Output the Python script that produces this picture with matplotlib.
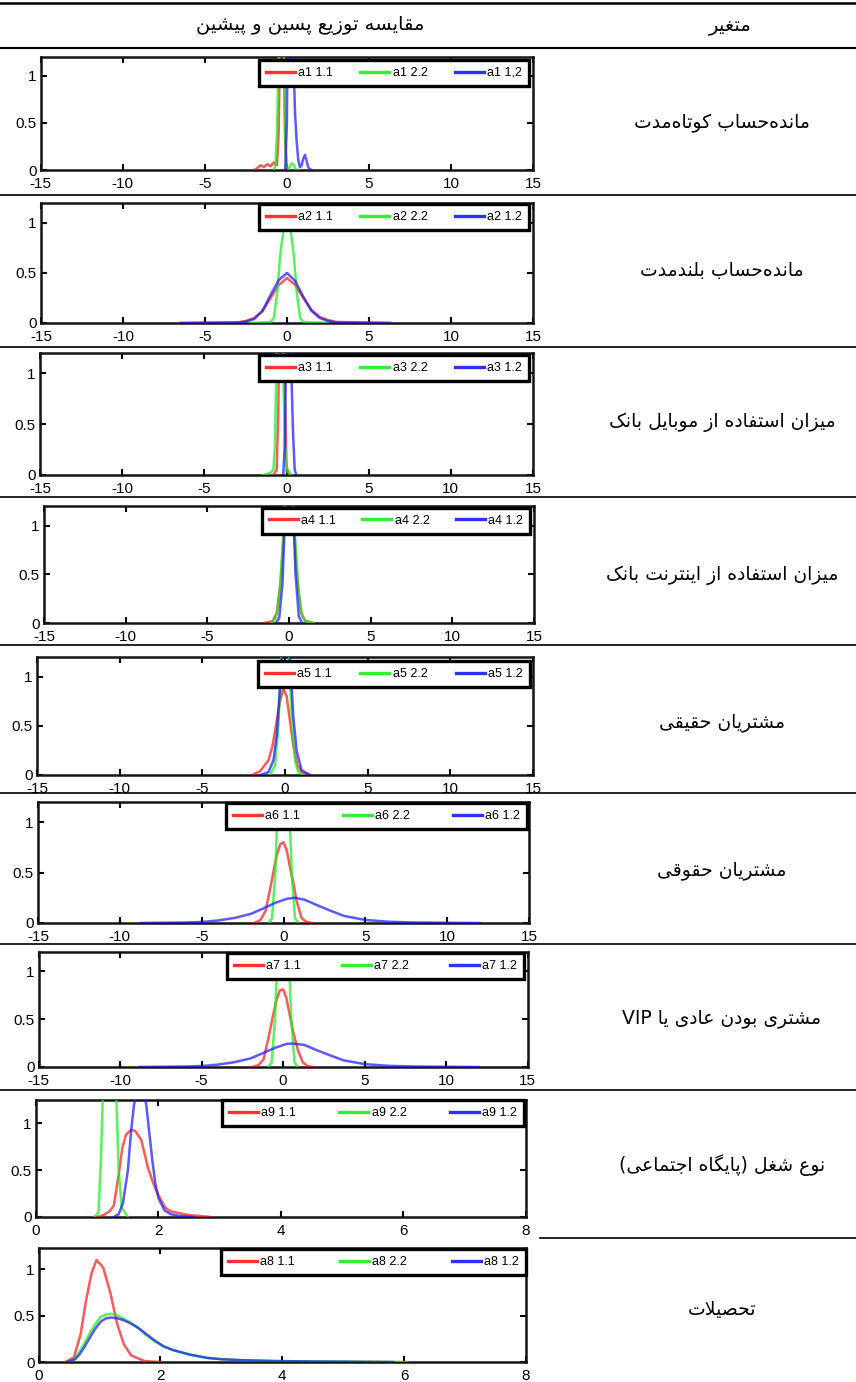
import re
import matplotlib
matplotlib.use("Agg")
import matplotlib.pyplot as plt
from matplotlib.lines import Line2D

W, H = 856, 1382

# ---------------- text ----------------
HEADER_PLOT = "مقایسه توزیع پسین و پیشین"
HEADER_VAR = "متغیر"
VARIABLES = [
    "مانده\u200cحساب کوتاه\u200cمدت",
    "مانده\u200cحساب بلندمدت",
    "میزان استفاده از موبایل بانک",
    "میزان استفاده از اینترنت بانک",
    "مشتریان حقیقی",
    "مشتریان حقوقی",
    "مشتری بودن عادی یا VIP",
    "نوع شغل (پایگاه اجتماعی)",
    "تحصیلات",
]
PARAM_NAMES = ["a1", "a2", "a3", "a4", "a5", "a6", "a7", "a9", "a8"]
SERIES_TAGS = ["1.1", "2.2", "1.2"]
FIRST_ROW_TAGS = ["1.1", "2.2", "1,2"]

WIDE_TICKS = [-15, -10, -5, 0, 5, 10, 15]
NARROW_TICKS = [0, 2, 4, 6, 8]
Y_TICKS = [0, 0.5, 1]

# ---------------- densities ----------------
# a1
A1_11_X = [-2.0, -1.8, -1.6, -1.4, -1.2, -1.0, -0.8, -0.6, -0.5, -0.4, -0.3, -0.2, -0.1, 0.0, 0.1]
A1_11_Y = [0, 0.02, 0.05, 0.03, 0.06, 0.04, 0.08, 0.05, 0.4, 1.5, 3.0, 1.5, 0.3, 0.02, 0]
A1_22_X = [-0.8, -0.7, -0.6, -0.5, -0.4, -0.3, -0.2, -0.1, 0.0, 0.1, 0.2, 0.3, 0.4, 0.5, 0.6, 0.7]
A1_22_Y = [0, 0.05, 0.4, 1.2, 3.0, 3.2, 1.5, 0.3, 0.03, 0.01, 0.04, 0.07, 0.06, 0.02, 0.0, 0]
A1_12_X = [-0.1, 0.0, 0.1, 0.2, 0.3, 0.4, 0.5, 0.6, 0.7, 0.8, 0.9, 1.0, 1.1, 1.2, 1.3, 1.4, 1.5]
A1_12_Y = [0, 0.5, 2.5, 3.0, 2.0, 1.2, 0.6, 0.3, 0.1, 0.03, 0.05, 0.12, 0.16, 0.1, 0.03, 0.01, 0]

# a2
A2_11_X = [-6.5, -3, -2.5, -2, -1.5, -1, -0.5, 0, 0.5, 1, 1.5, 2, 2.5, 3, 6.3]
A2_11_Y = [0, 0.005, 0.02, 0.05, 0.12, 0.25, 0.38, 0.45, 0.38, 0.25, 0.13, 0.06, 0.03, 0.01, 0]
A2_22_X = [-2.3, -1.0, -0.8, -0.6, -0.4, -0.2, 0, 0.2, 0.4, 0.6, 0.8, 1.0, 2.5]
A2_22_Y = [0, 0.01, 0.05, 0.3, 0.7, 0.95, 1.0, 0.95, 0.7, 0.3, 0.05, 0.01, 0]
A2_12_X = [-6.5, -3, -2.5, -2, -1.5, -1, -0.5, 0, 0.5, 1, 1.5, 2, 2.5, 3, 6.3]
A2_12_Y = [0, 0.005, 0.015, 0.04, 0.12, 0.28, 0.43, 0.5, 0.42, 0.26, 0.12, 0.05, 0.02, 0.005, 0]

# a3
A3_11_X = [-0.8, -0.6, -0.5, -0.4, -0.3, -0.2, -0.1, 0, 0.1]
A3_11_Y = [0, 0.05, 0.6, 2.0, 3.0, 2.0, 0.8, 0.1, 0]
A3_22_X = [-1.4, -1.0, -0.8, -0.7, -0.6, -0.5, -0.4, -0.3, -0.2, -0.1, 0, 0.1, 0.2, 0.3]
A3_22_Y = [0, 0.02, 0.05, 0.3, 1.2, 3.0, 3.0, 2.0, 1.0, 0.3, 0.03, 0.05, 0.02, 0]
A3_12_X = [-0.2, -0.1, 0, 0.1, 0.2, 0.3, 0.4, 0.5, 0.6]
A3_12_Y = [0, 0.3, 1.5, 3.0, 2.5, 1.0, 0.4, 0.05, 0]

# a4
A4_11_X = [-1.5, -1.0, -0.75, -0.5, -0.3, -0.15, 0, 0.15, 0.3, 0.5, 0.75, 1.0, 1.5]
A4_11_Y = [0, 0.02, 0.1, 0.45, 1.0, 1.45, 1.6, 1.45, 1.0, 0.45, 0.1, 0.02, 0]
A4_22_X = [-1.1, -0.8, -0.6, -0.4, -0.2, 0, 0.2, 0.4, 0.6, 0.8, 1.0, 1.5]
A4_22_Y = [0, 0.05, 0.25, 0.75, 1.35, 1.6, 1.4, 0.8, 0.3, 0.07, 0.02, 0]
A4_12_X = [-0.8, -0.6, -0.4, -0.2, 0, 0.2, 0.4, 0.6, 0.8]
A4_12_Y = [0, 0.05, 0.4, 1.3, 1.8, 1.4, 0.5, 0.07, 0]

# a5
A5_11_X = [-2.0, -1.5, -1.0, -0.75, -0.5, -0.3, -0.1, 0.1, 0.3, 0.5, 0.75, 1.0, 1.5]
A5_11_Y = [0, 0.04, 0.15, 0.3, 0.55, 0.75, 0.88, 0.8, 0.55, 0.3, 0.1, 0.03, 0]
A5_22_X = [-0.9, -0.6, -0.4, -0.2, 0, 0.2, 0.4, 0.6, 0.8, 1.1]
A5_22_Y = [0, 0.1, 0.5, 1.3, 1.8, 1.4, 0.6, 0.15, 0.03, 0]
A5_12_X = [-1.5, -1.0, -0.7, -0.5, -0.3, -0.1, 0.1, 0.3, 0.5, 0.7, 1.0, 1.5]
A5_12_Y = [0, 0.03, 0.15, 0.4, 0.9, 1.4, 1.5, 1.2, 0.6, 0.25, 0.05, 0]

# a6
A6_11_X = [-1.8, -1.4, -1.1, -0.8, -0.6, -0.4, -0.2, 0, 0.2, 0.4, 0.6, 0.8, 1.1, 1.4, 1.8]
A6_11_Y = [0, 0.03, 0.12, 0.35, 0.52, 0.68, 0.78, 0.8, 0.72, 0.55, 0.4, 0.22, 0.05, 0.01, 0]
A6_22_X = [-0.9, -0.7, -0.5, -0.3, -0.1, 0.1, 0.3, 0.5, 0.7, 0.9]
A6_22_Y = [0, 0.05, 0.5, 1.4, 2.0, 2.0, 1.4, 0.5, 0.05, 0]
A6_12_X = [-8.7, -6, -5, -4, -3, -2, -1.3, -0.5, 0.2, 0.7, 1.3, 2.0, 2.9, 3.7, 5.0, 6.5, 8, 10, 12]
A6_12_Y = [0, 0.005, 0.01, 0.025, 0.05, 0.09, 0.14, 0.2, 0.24, 0.25, 0.23, 0.18, 0.12, 0.07, 0.03, 0.012, 0.005, 0.002, 0]

# a7
A7_11_X = [-1.9, -1.5, -1.2, -0.9, -0.6, -0.4, -0.2, 0, 0.2, 0.4, 0.6, 0.9, 1.2, 1.5, 1.8]
A7_11_Y = [0, 0.02, 0.08, 0.3, 0.55, 0.7, 0.8, 0.81, 0.72, 0.55, 0.38, 0.18, 0.05, 0.01, 0]
A7_22_X = [-0.9, -0.7, -0.5, -0.3, -0.1, 0.1, 0.3, 0.5, 0.7, 0.9]
A7_22_Y = [0, 0.05, 0.5, 1.4, 2.0, 2.0, 1.4, 0.5, 0.05, 0]
A7_12_X = [-8.8, -6, -5, -4, -3, -2, -1.3, -0.5, 0.2, 0.6, 1.3, 2.0, 2.9, 3.7, 5.0, 6.5, 8, 10, 12]
A7_12_Y = [0, 0.005, 0.01, 0.025, 0.05, 0.09, 0.14, 0.2, 0.24, 0.245, 0.23, 0.18, 0.12, 0.07, 0.03, 0.012, 0.005, 0.002, 0]

# a9
A9_11_X = [1.0, 1.1, 1.2, 1.27, 1.35, 1.41, 1.47, 1.55, 1.62, 1.72, 1.83, 1.92, 2.0, 2.11, 2.2, 2.34, 2.5, 2.68, 2.85]
A9_11_Y = [0, 0.02, 0.06, 0.12, 0.45, 0.74, 0.88, 0.93, 0.92, 0.82, 0.52, 0.35, 0.23, 0.1, 0.06, 0.04, 0.02, 0.01, 0]
A9_22_X = [0.95, 1.02, 1.06, 1.1, 1.15, 1.2, 1.25, 1.3, 1.35, 1.4, 1.5]
A9_22_Y = [0, 0.05, 0.6, 1.5, 3.0, 3.5, 3.0, 1.5, 0.5, 0.1, 0]
A9_12_X = [1.27, 1.35, 1.42, 1.5, 1.55, 1.6, 1.65, 1.7, 1.75, 1.8, 1.85, 1.9, 1.95, 2.0, 2.1, 2.2, 2.35, 2.57]
A9_12_Y = [0, 0.03, 0.15, 0.5, 0.9, 1.2, 1.35, 1.4, 1.35, 1.2, 0.9, 0.6, 0.35, 0.2, 0.07, 0.03, 0.01, 0]

# a8
A8_11_X = [0.44, 0.58, 0.69, 0.78, 0.87, 0.95, 1.06, 1.18, 1.29, 1.40, 1.52, 1.74, 2.0]
A8_11_Y = [0, 0.05, 0.3, 0.67, 0.96, 1.1, 1.02, 0.74, 0.41, 0.19, 0.07, 0.01, 0]
A8_22_X = [0.5, 0.6, 0.67, 0.75, 0.83, 0.92, 1.01, 1.1, 1.18, 1.27, 1.35, 1.5, 1.63, 1.77, 1.91,
           2.05, 2.2, 2.48, 2.76, 3.0, 3.32, 3.9, 4.5, 5.03, 5.5, 6.05]
A8_22_Y = [0, 0.04, 0.11, 0.2, 0.3, 0.4, 0.48, 0.51, 0.52, 0.51, 0.48, 0.43, 0.37, 0.29, 0.22,
           0.17, 0.13, 0.08, 0.045, 0.03, 0.02, 0.01, 0.006, 0.004, 0.002, 0]
A8_12_X = [0.47, 0.6, 0.67, 0.75, 0.83, 0.92, 1.01, 1.1, 1.2, 1.3, 1.4, 1.5, 1.63, 1.77, 1.91,
           2.05, 2.2, 2.48, 2.76, 3.0, 3.32, 3.9, 4.5, 5.0, 5.82]
A8_12_Y = [0, 0.03, 0.08, 0.16, 0.25, 0.35, 0.43, 0.47, 0.48, 0.47, 0.45, 0.42, 0.37, 0.3, 0.23,
           0.17, 0.13, 0.08, 0.045, 0.03, 0.02, 0.01, 0.006, 0.004, 0]

CURVES = [
    [(A1_11_X, A1_11_Y), (A1_22_X, A1_22_Y), (A1_12_X, A1_12_Y)],
    [(A2_11_X, A2_11_Y), (A2_22_X, A2_22_Y), (A2_12_X, A2_12_Y)],
    [(A3_11_X, A3_11_Y), (A3_22_X, A3_22_Y), (A3_12_X, A3_12_Y)],
    [(A4_11_X, A4_11_Y), (A4_22_X, A4_22_Y), (A4_12_X, A4_12_Y)],
    [(A5_11_X, A5_11_Y), (A5_22_X, A5_22_Y), (A5_12_X, A5_12_Y)],
    [(A6_11_X, A6_11_Y), (A6_22_X, A6_22_Y), (A6_12_X, A6_12_Y)],
    [(A7_11_X, A7_11_Y), (A7_22_X, A7_22_Y), (A7_12_X, A7_12_Y)],
    [(A9_11_X, A9_11_Y), (A9_22_X, A9_22_Y), (A9_12_X, A9_12_Y)],
    [(A8_11_X, A8_11_Y), (A8_22_X, A8_22_Y), (A8_12_X, A8_12_Y)],
]

COLORS = ["#ff1a1a", "#1aee1a", "#1a1aff"]

# ---------------- layout (pixels) ----------------
# axes: left, right, top, bottom (bottom = y of zero), y-limit
AXES_PX = [
    (40.7, 533, 57, 170, 1.2),
    (41, 533, 203, 323, 1.2),
    (40, 533, 353, 475, 1.2),
    (44, 534, 506, 623, 1.2),
    (37, 533, 657, 775, 1.2),
    (38, 529, 802, 923, 1.2),
    (38.6, 527.6, 952, 1067, 1.2),
    (36, 526, 1100, 1217, 1.25),
    (38.6, 526, 1248, 1362, 1.23),
]
# legend: left, right, top
LEGEND_PX = [
    (259, 529, 60), (259, 529, 204), (259, 529, 355), (262, 530, 508), (258, 530, 661),
    (226, 527, 803), (227, 524, 953), (222, 524, 1100), (221, 526, 1249),
]
ROW_LINES = [195, 347, 497, 645, 793, 944, 1090]
TEXT_Y = [123, 270, 422, 575, 722, 870, 1018, 1165, 1310]

# ---------------- Persian shaping ----------------
_FORMS = {
    "\u0627": ("\uFE8D", "\uFE8E", None, None),
    "\u0622": ("\uFE81", "\uFE82", None, None),
    "\u0628": ("\uFE8F", "\uFE90", "\uFE91", "\uFE92"),
    "\u067E": ("\uFB56", "\uFB57", "\uFB58", "\uFB59"),
    "\u062A": ("\uFE95", "\uFE96", "\uFE97", "\uFE98"),
    "\u062B": ("\uFE99", "\uFE9A", "\uFE9B", "\uFE9C"),
    "\u062C": ("\uFE9D", "\uFE9E", "\uFE9F", "\uFEA0"),
    "\u0686": ("\uFB7A", "\uFB7B", "\uFB7C", "\uFB7D"),
    "\u062D": ("\uFEA1", "\uFEA2", "\uFEA3", "\uFEA4"),
    "\u062E": ("\uFEA5", "\uFEA6", "\uFEA7", "\uFEA8"),
    "\u062F": ("\uFEA9", "\uFEAA", None, None),
    "\u0630": ("\uFEAB", "\uFEAC", None, None),
    "\u0631": ("\uFEAD", "\uFEAE", None, None),
    "\u0632": ("\uFEAF", "\uFEB0", None, None),
    "\u0698": ("\uFB8A", "\uFB8B", None, None),
    "\u0633": ("\uFEB1", "\uFEB2", "\uFEB3", "\uFEB4"),
    "\u0634": ("\uFEB5", "\uFEB6", "\uFEB7", "\uFEB8"),
    "\u0635": ("\uFEB9", "\uFEBA", "\uFEBB", "\uFEBC"),
    "\u0636": ("\uFEBD", "\uFEBE", "\uFEBF", "\uFEC0"),
    "\u0637": ("\uFEC1", "\uFEC2", "\uFEC3", "\uFEC4"),
    "\u0638": ("\uFEC5", "\uFEC6", "\uFEC7", "\uFEC8"),
    "\u0639": ("\uFEC9", "\uFECA", "\uFECB", "\uFECC"),
    "\u063A": ("\uFECD", "\uFECE", "\uFECF", "\uFED0"),
    "\u0641": ("\uFED1", "\uFED2", "\uFED3", "\uFED4"),
    "\u0642": ("\uFED5", "\uFED6", "\uFED7", "\uFED8"),
    "\u06A9": ("\uFB8E", "\uFB8F", "\uFB90", "\uFB91"),
    "\u06AF": ("\uFB92", "\uFB93", "\uFB94", "\uFB95"),
    "\u0644": ("\uFEDD", "\uFEDE", "\uFEDF", "\uFEE0"),
    "\u0645": ("\uFEE1", "\uFEE2", "\uFEE3", "\uFEE4"),
    "\u0646": ("\uFEE5", "\uFEE6", "\uFEE7", "\uFEE8"),
    "\u0647": ("\uFEE9", "\uFEEA", "\uFEEB", "\uFEEC"),
    "\u0648": ("\uFEED", "\uFEEE", None, None),
    "\u06CC": ("\uFBFC", "\uFBFD", "\uFBFE", "\uFBFF"),
}


def _shape(text):
    text = text.replace("\u064A", "\u06CC").replace("\u0643", "\u06A9")
    out = []
    n = len(text)
    i = 0
    while i < n:
        c = text[i]
        if c not in _FORMS:
            if c != "\u200c":
                out.append(c)
            i += 1
            continue
        prev = text[i - 1] if i > 0 else None
        joins_prev = prev in _FORMS and _FORMS[prev][2] is not None
        if c == "\u0644" and i + 1 < n and text[i + 1] == "\u0627":
            out.append("\uFEFC" if joins_prev else "\uFEFB")
            i += 2
            continue
        nxt = text[i + 1] if i + 1 < n else None
        joins_next = _FORMS[c][2] is not None and nxt in _FORMS
        iso, fin, ini, med = _FORMS[c]
        if joins_prev and joins_next:
            out.append(med)
        elif joins_prev:
            out.append(fin)
        elif joins_next:
            out.append(ini)
        else:
            out.append(iso)
        i += 1
    return "".join(out)


def rtl(text):
    vis = _shape(text)[::-1]
    vis = vis.translate(str.maketrans("()", ")("))
    return re.sub(r"[A-Za-z0-9.,]+", lambda m: m.group(0)[::-1], vis)


# ---------------- figure ----------------
fig = plt.figure(figsize=(W / 100, H / 100), dpi=100)
fig.patch.set_facecolor("white")

bg = fig.add_axes([0, 0, 1, 1], zorder=-5)
bg.set_xlim(0, W)
bg.set_ylim(H, 0)
bg.axis("off")

# table rules
bg.add_line(Line2D([0, W], [3, 3], color="black", lw=1.8))
bg.add_line(Line2D([0, W], [48, 48], color="black", lw=1.5))
for yy in ROW_LINES:
    bg.add_line(Line2D([0, W], [yy, yy], color="black", lw=1.2))
bg.add_line(Line2D([540, W], [1238, 1238], color="black", lw=1.2))

persian_font = ["DejaVu Sans"]
bg.text(310, 25, rtl(HEADER_PLOT), ha="center", va="center", fontsize=14,
        family=persian_font)
bg.text(730, 25, rtl(HEADER_VAR), ha="center", va="center", fontsize=14,
        family=persian_font)
for label, yy in zip(VARIABLES, TEXT_Y):
    bg.text(722, yy, rtl(label), ha="center", va="center", fontsize=13.5,
            family=persian_font)

TICK_FAMILY = "Liberation Sans"
TICK_SIZE = 11

for row, (curves, (l, r, t, b, ymax), (lx0, lx1, lyt), pname) in enumerate(
        zip(CURVES, AXES_PX, LEGEND_PX, PARAM_NAMES)):
    ax = fig.add_axes([l / W, 1 - b / H, (r - l) / W, (b - t) / H])
    tags = FIRST_ROW_TAGS if row == 0 else SERIES_TAGS
    for (xs, ys), col, tag in zip(curves, COLORS, tags):
        ax.plot(xs, ys, color=col, lw=1.8, alpha=0.72, solid_joinstyle="round",
                zorder=3, label=f"{pname} {tag}")
    if row < 7:
        ax.set_xlim(-15, 15)
        ax.set_xticks(WIDE_TICKS)
        ax.set_xticklabels([str(v) for v in WIDE_TICKS])
    else:
        ax.set_xlim(0, 8)
        ax.set_xticks(NARROW_TICKS)
        ax.set_xticklabels([str(v) for v in NARROW_TICKS])
    ax.set_ylim(0, ymax)
    ax.set_yticks(Y_TICKS)
    ax.set_yticklabels(["0", "0.5", "1"])
    for lab in ax.get_xticklabels() + ax.get_yticklabels():
        lab.set_fontfamily(TICK_FAMILY)
        lab.set_fontsize(TICK_SIZE)
    ax.tick_params(direction="in", top=True, right=True, length=4, width=1.5,
                   colors="black")
    ax.tick_params(axis="x", pad=5)
    ax.tick_params(axis="y", pad=3)
    for sp in ax.spines.values():
        sp.set_linewidth(1.8)
        sp.set_color("#141414")

    leg = ax.legend(loc="upper left",
                    bbox_to_anchor=(lx0 / W, 1 - lyt / H, (lx1 - lx0) / W, 0),
                    bbox_transform=fig.transFigure, mode="expand", ncol=3,
                    borderaxespad=0, fancybox=False, framealpha=1,
                    edgecolor="black", prop={"family": "Liberation Sans", "size": 9},
                    handlelength=2.3, handletextpad=0.3, borderpad=0.55,
                    columnspacing=1.0)
    leg.set_zorder(6)
    leg.get_frame().set_linewidth(2.4)
    for hl in leg.get_lines():
        hl.set_linewidth(2.4)
        hl.set_alpha(0.9)

fig.savefig("out.png", dpi=100, facecolor="white")
